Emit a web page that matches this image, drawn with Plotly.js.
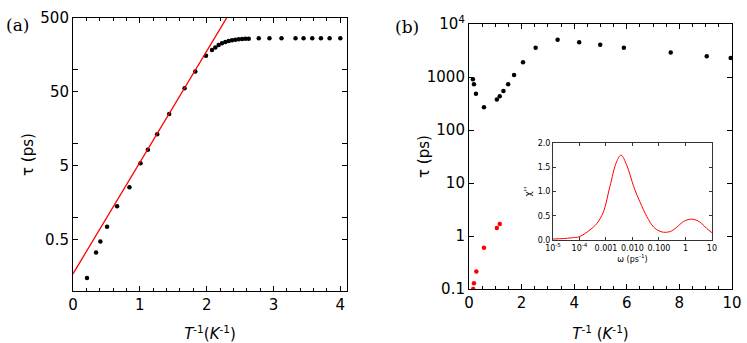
<!DOCTYPE html>
<html>
<head>
<meta charset="utf-8">
<script src="https://cdn.plot.ly/plotly-3.0.1.min.js"></script>
<style>body{margin:0;background:#fff}#chart{width:747px;height:343px}</style>
</head>
<body>
<div id="chart"></div>
<script>
// panel (a): relaxation time vs inverse temperature
const aInvT = [0.21, 0.345, 0.41, 0.51, 0.66, 0.845, 1.01, 1.12, 1.26, 1.44, 1.67, 1.83, 1.99,
  2.08, 2.13, 2.18, 2.23, 2.28, 2.33, 2.38, 2.43, 2.48, 2.53, 2.58, 2.63,
  2.78, 2.94, 3.12, 3.33, 3.45, 3.58, 3.71, 3.84, 4.0];
const aTau = [0.15, 0.333, 0.47, 0.74, 1.41, 2.55, 5.4, 8.2, 13.3, 25, 56, 94, 154,
  184, 200, 215, 227, 237, 244, 249, 254, 257, 260, 262, 262,
  265, 265, 265, 265, 265, 265, 265, 265, 265];
// Arrhenius fit line (end points)
const fitInvT = [0, 2.4];
const fitTau = [0.171, 711];

// panel (b)
const bInvT = [0.15, 0.19, 0.265, 0.57, 1.06, 1.17, 1.31, 1.49, 1.715, 2.055, 2.535, 3.37, 4.19, 4.99, 5.89, 7.67, 9.04, 9.95];
const bTau = [903, 727, 483, 269, 377, 435, 542, 727, 1091, 1897, 3557, 5045, 4550, 4052, 3557, 2898, 2467, 2296];
const bRedInvT = [0.16, 0.19, 0.28, 0.57, 1.06, 1.17];
const bRedTau = [0.1, 0.128, 0.213, 0.60, 1.42, 1.69];

// inset: susceptibility spectrum
const omega = [1e-5, 2.5e-5, 5e-5, 1e-4, 2.5e-4, 4.5e-4, 8e-4, 1.4e-3, 2.5e-3, 3.7e-3, 6e-3, 8e-3, 0.012, 0.019,
  0.035, 0.062, 0.1, 0.146, 0.25, 0.35, 0.56, 0.83, 1.26, 1.8, 2.8, 4.1, 6.3, 10];
const chi2 = [0.02, 0.03, 0.045, 0.07, 0.21, 0.34, 0.58, 1.10, 1.61, 1.75, 1.55, 1.35, 1.05, 0.79,
  0.48, 0.27, 0.19, 0.16, 0.17, 0.21, 0.30, 0.38, 0.42, 0.43, 0.40, 0.34, 0.24, 0.15];

const aTickVals = [0.5, 1, 5, 10, 50, 100, 500];
const aTickText = ['0.5', '', '5', '', '50', '', '500'];
const bTickVals = [0.1, 1, 10, 100, 1000, 10000];
const bTickText = ['0.1', '1', '10', '100', '1000', '10<sup>4</sup>'];
const insetTickVals = [1e-5, 1e-4, 1e-3, 1e-2, 0.1, 1, 10];
const insetTickText = ['10<sup>-5</sup>', '10<sup>-4</sup>', '0.001', '0.010', '0.100', '1', '10'];

const frame = {
  showline: true, mirror: 'allticks', linecolor: 'black', linewidth: 1,
  ticks: 'inside', ticklen: 5, tickcolor: 'black', showgrid: false, zeroline: false
};

const dot = {color: 'black', size: 4.5};
const data = [
  {x: aInvT, y: aTau, mode: 'markers', marker: dot, xaxis: 'x', yaxis: 'y'},
  {x: fitInvT, y: fitTau, mode: 'lines', line: {color: 'red', width: 1.3}, xaxis: 'x', yaxis: 'y'},
  {x: bInvT, y: bTau, mode: 'markers', marker: dot, xaxis: 'x2', yaxis: 'y2'},
  {x: bRedInvT, y: bRedTau, mode: 'markers', marker: {color: 'red', size: 4.5}, xaxis: 'x2', yaxis: 'y2'},
  {x: omega, y: chi2, mode: 'lines', line: {color: 'red', width: 1, shape: 'spline'}, xaxis: 'x3', yaxis: 'y3'}
];

const layout = {
  width: 747, height: 343,
  margin: {l: 0, r: 0, t: 0, b: 0},
  showlegend: false,
  paper_bgcolor: 'white', plot_bgcolor: 'rgba(0,0,0,0)',
  font: {family: 'DejaVu Sans', size: 15, color: 'black'},
  xaxis: Object.assign({}, frame, {
    domain: [0.0977, 0.4645], range: [0, 4.1], dtick: 1,
    minor: {dtick: 0.2, ticks: 'inside', ticklen: 3, tickcolor: 'black'},
    title: {text: '<i>T</i><sup>-1</sup>(<i>K</i><sup>-1</sup>)', font: {size: 15}}
  }),
  yaxis: Object.assign({}, frame, {
    domain: [0.1516, 0.9475], type: 'log', range: [-1, 2.699],
    tickvals: aTickVals, ticktext: aTickText,
    title: {text: 'τ (ps)', font: {size: 15}}
  }),
  xaxis2: Object.assign({}, frame, {
    domain: [0.6278, 0.9799], range: [0, 10], dtick: 2, anchor: 'y2',
    minor: {dtick: 0.5, ticks: 'inside', ticklen: 3, tickcolor: 'black'},
    title: {text: '<i>T</i><sup>-1</sup> (<i>K</i><sup>-1</sup>)', font: {size: 15}}
  }),
  yaxis2: Object.assign({}, frame, {
    domain: [0.1574, 0.9300], type: 'log', range: [-1, 4], anchor: 'x2',
    tickvals: bTickVals, ticktext: bTickText,
    title: {text: 'τ (ps)', font: {size: 15}}
  }),
  xaxis3: Object.assign({}, frame, {
    domain: [0.7403, 0.9531], type: 'log', range: [-5, 1], anchor: 'y3',
    tickvals: insetTickVals, ticktext: insetTickText, ticklen: 3,
    tickfont: {size: 8}, linecolor: '#333', tickcolor: '#333',
    title: {text: 'ω (ps<sup>-1</sup>)', font: {size: 8}, standoff: 4}
  }),
  yaxis3: Object.assign({}, frame, {
    domain: [0.3003, 0.5831], range: [0, 2], dtick: 0.5, anchor: 'x3', ticklen: 3,
    tickformat: '.1f', tickfont: {size: 8}, linecolor: '#333', tickcolor: '#333',
    title: {text: "χ''", font: {size: 9}, standoff: 4}
  }),
  annotations: [
    {text: '(a)', x: 4 / 747, xanchor: 'left', y: 1 - 13 / 343, xref: 'paper', yref: 'paper', showarrow: false,
      font: {family: 'DejaVu Serif', size: 17}},
    {text: '(b)', x: 393 / 747, xanchor: 'left', y: 1 - 15 / 343, xref: 'paper', yref: 'paper', showarrow: false,
      font: {family: 'DejaVu Serif', size: 17}}
  ]
};

Plotly.newPlot('chart', data, layout, {staticPlot: true});
</script>
</body>
</html>
